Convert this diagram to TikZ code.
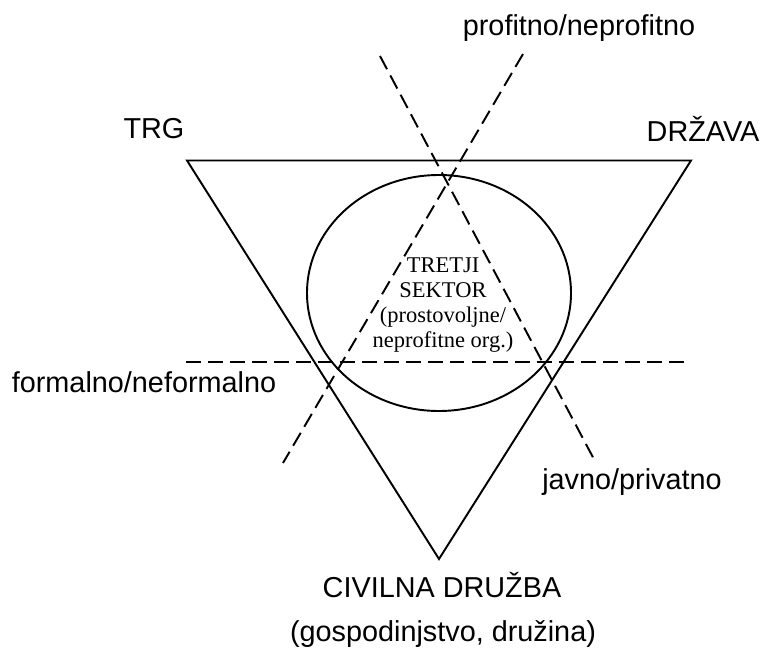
\documentclass[tikz,border=0pt]{standalone}
\usepackage{fontspec}
\setmainfont{Liberation Sans}
\newfontfamily\timesfont{Liberation Serif}
\usetikzlibrary{positioning}
\tikzset{font=\fontsize{16.4}{19}\selectfont}
\tikzset{
  edge/.style={line width=1.1pt},
  cut/.style={line width=1.1pt, dash pattern=on 8.5pt off 4pt},
  lbl/.style={inner sep=0pt, anchor=center}
}

\begin{document}
\begin{tikzpicture}[x=0.02cm, y=0.02cm]
          \useasboundingbox (0,0) rectangle (764,650);
          % corners of the triangle
          \coordinate (tl) at (187,489.5);
          \coordinate (tr) at (691,489.5);
          \coordinate (bt) at (439,91);
          \draw[edge] (tl) -- (tr) -- (bt) -- cycle;
          \draw[edge] (439,357) ellipse [x radius=132, y radius=118];
          % dashed cuts
          \coordinate (h1) at (186,288.3);
          \coordinate (h2) at (688,288.3);
          \coordinate (a1) at (523,596);
          \coordinate (a2) at (283,187);
          \coordinate (b1) at (380,594);
          \coordinate (b2) at (596,187);
          \draw[cut] (h1) -- (h2);
          \draw[cut] (a1) -- (a2);
          \draw[cut] (b1) -- (b2);
          % labels
          \node[lbl] (trg) at (154,521) {TRG};
          \node[lbl] (drzava) at (703,521) {DRŽAVA};
          \node[lbl] (profit) at (579,622) {profitno/neprofitno};
          \node[lbl] (formal) at (144,268) {formalno/neformalno};
          \node[lbl] (javno) at (632,168) {javno/privatno};
          \node[lbl] (civilna) at (442,65) {CIVILNA DRUŽBA};
          \node[lbl] (gospod) at (443,16) {(gospodinjstvo, družina)};
          \node[lbl, align=center, font=\timesfont\fontsize{12.8}{14.3}\selectfont]
            (sektor) at (443,345) {TRETJI\\SEKTOR\\(prostovoljne/\\neprofitne org.)};
        \end{tikzpicture}
\end{document}
